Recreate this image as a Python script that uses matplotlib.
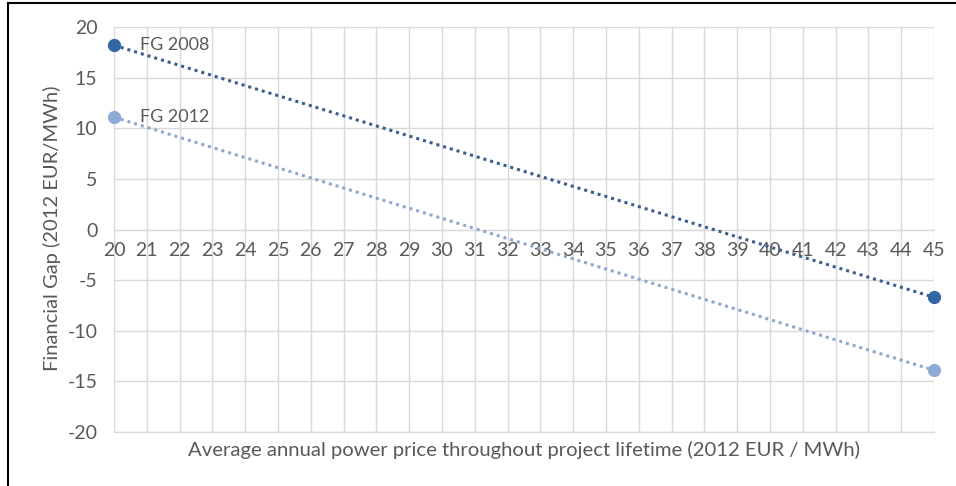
import matplotlib.pyplot as plt
from matplotlib.lines import Line2D

# data
price = [20, 45]
fg_2008 = [18.2, -6.7]
fg_2012 = [11.1, -13.9]
series_names = ["FG 2008", "FG 2012"]
x_ticks = list(range(20, 46))
y_ticks = [-20, -15, -10, -5, 0, 5, 10, 15, 20]

plt.rcParams['font.family'] = ['Lato', 'DejaVu Sans']
plt.rcParams['axes.unicode_minus'] = False
text_col = '#595959'
grid_col = '#d9d9d9'

fig = plt.figure(figsize=(9.56, 4.86), dpi=100)
ax = fig.add_axes([0.1192, 0.1111, 0.8578, 0.8333])

# series: marker at each end, dotted trend line between
styles = [('#3465a4', '#3a5e91'), ('#8eaad6', '#8fa8cf')]
for vals, name, (mcol, lcol) in zip([fg_2008, fg_2012], series_names, styles):
    ax.plot(price, vals, linestyle=(0, (1, 1.3)), linewidth=2.2, color=lcol, zorder=3)
    ax.plot(price, vals, 'o', markersize=8.5, color=mcol, clip_on=False, zorder=4)
    ax.annotate(name, (price[0], vals[0]), xytext=(19, 0), textcoords='offset points',
                va='center', ha='left', fontsize=13, color=text_col)

ax.set_xlim(20, 45)
ax.set_ylim(-20, 20)
ax.set_xticks(x_ticks)
ax.set_yticks(y_ticks)
ax.grid(True, color=grid_col, linewidth=1)
ax.set_axisbelow(True)

for side in ['top', 'right', 'left']:
    ax.spines[side].set_visible(False)
ax.spines['bottom'].set_position(('data', 0))
ax.spines['bottom'].set_color(grid_col)
ax.tick_params(axis='both', length=0, labelsize=14, labelcolor=text_col)
ax.tick_params(axis='x', pad=9)
ax.tick_params(axis='y', pad=12)

# bottom edge of the grid area
ax.axhline(-20, color=grid_col, linewidth=1, clip_on=False)

fig.text(0.548, 0.075, "Average annual power price throughout project lifetime (2012 EUR / MWh)",
         ha='center', va='center', fontsize=14.6, color=text_col)
fig.text(0.054, 0.530, "Financial Gap (2012 EUR/MWh)", rotation=90,
         ha='center', va='center', fontsize=14.5, color=text_col)

# black frame on left and top of the screenshot
fig.add_artist(Line2D([0.0084, 0.0084], [0, 0.994], transform=fig.transFigure, color='black', linewidth=1.5))
fig.add_artist(Line2D([0.0084, 1], [0.994, 0.994], transform=fig.transFigure, color='black', linewidth=1.5))

fig.savefig('out.png', dpi=100)
